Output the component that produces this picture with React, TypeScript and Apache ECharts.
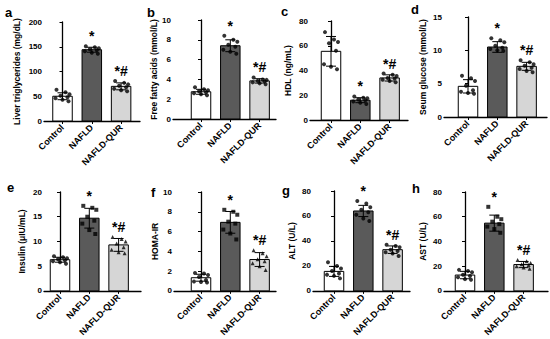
import React, { useEffect, useRef } from 'react';
import * as echarts from 'echarts';

const categories = ['Control', 'NAFLD', 'NAFLD-QUR'];

// a: Liver triglycerides
const tgMeans = [50, 144, 70];
const tgSD = [7, 5, 7];
const tgControl = [63, 58, 54, 51, 48, 46, 43, 40];
const tgNafld = [151, 149, 147, 145, 143, 141, 138, 136];
const tgQur = [81, 77, 74, 71, 68, 65, 62, 60];
const tgTicks = [0, 50, 100, 150, 200];

// b: Free fatty acids
const ffaMeans = [2.75, 7.4, 3.85];
const ffaSD = [0.25, 0.6, 0.22];
const ffaControl = [3.2, 3.0, 2.9, 2.8, 2.7, 2.6, 2.5, 2.4];
const ffaNafld = [8.4, 8.0, 7.8, 7.5, 7.3, 7.0, 6.8, 6.6];
const ffaQur = [4.2, 4.0, 3.95, 3.85, 3.8, 3.7, 3.6, 3.5];
const ffaTicks = [0, 2, 4, 6, 8, 10];

// c: HDL
const hdlMeans = [55.5, 16, 34];
const hdlSD = [12, 2, 2.5];
const hdlControl = [71, 65, 63, 62, 56, 45, 43, 41];
const hdlNafld = [19, 18, 17.5, 16.5, 16, 15, 14, 13];
const hdlQur = [37.5, 36.5, 35.5, 34, 33.5, 32.5, 31.5, 30.5];
const hdlTicks = [0, 20, 40, 60, 80];

// d: Serum glucose
const gluMeans = [4.6, 10.5, 7.6];
const gluSD = [1.0, 0.8, 0.6];
const gluControl = [6.2, 5.8, 5.4, 4.7, 4.0, 3.8, 3.6, 3.5];
const gluNafld = [11.8, 11.5, 11.2, 10.7, 10.4, 10.2, 10.0, 9.9];
const gluQur = [8.5, 8.2, 7.9, 7.7, 7.4, 7.2, 6.9, 6.7];
const gluTicks = [0, 5, 10, 15];

// e: Insulin
const insMeans = [6.3, 14.7, 9.3];
const insSD = [0.5, 2.0, 1.3];
const insControl = [7.0, 6.8, 6.6, 6.4, 6.2, 6.0, 5.8, 5.5];
const insNafld = [17.2, 16.8, 16.4, 15.0, 14.2, 13.6, 12.3, 11.5];
const insQur = [10.9, 10.5, 10.0, 9.6, 8.8, 8.3, 7.8, 7.6];
const insTicks = [0, 5, 10, 15, 20];

// f: HOMA-IR
const homaMeans = [1.33, 6.93, 3.17];
const homaSD = [0.35, 1.1, 0.7];
const homaControl = [1.8, 1.75, 1.6, 1.4, 1.1, 0.95, 0.9, 0.85];
const homaNafld = [8.2, 8.0, 7.7, 7.0, 6.8, 6.2, 5.8, 5.2];
const homaQur = [4.1, 3.8, 3.5, 3.2, 3.0, 2.8, 2.5, 2.1];
const homaTicks = [0, 2, 4, 6, 8, 10];

// g: ALT
const altMeans = [15.6, 64, 33];
const altSD = [4, 4.5, 3];
const altControl = [23, 20, 18, 16, 14, 13, 12, 10];
const altNafld = [72, 70, 67, 65, 63, 61, 58, 56];
const altQur = [37, 36, 35, 33, 32, 31, 30, 28];
const altTicks = [0, 20, 40, 60, 80];

// h: AST
const astMeans = [12.8, 54.8, 21.3];
const astSD = [3, 6.5, 2.5];
const astControl = [17, 16, 15, 13, 12, 11, 9.5, 9];
const astNafld = [68, 60, 58, 56, 54, 52, 50, 47];
const astQur = [25, 24, 22.5, 21.5, 21, 20, 19, 18];
const astTicks = [0, 20, 40, 60, 80];

const sigLabels = ['', '*', '*#'];

const FONT = '"Liberation Sans", Arial, sans-serif';
const barColors = ['#ffffff', '#5a5a5a', '#d6d6d6'];
const jitter = [-6, 3, 7, -2, 5, -7, 0, 6];

type Panel = {
  letter: string;
  name: string;
  means: number[];
  sd: number[];
  points: number[][];
  ticks: number[];
  symbols: string[];
  axisX: number;
  top: number;
  bottom: number;
  c1: number;
  end: number;
  nameGap: number;
  lx: number;
  ly: number;
};

const circ = ['circle', 'circle', 'circle'];
const mixed = ['circle', 'rect', 'triangle'];

const panels: Panel[] = [
  { letter: 'a', name: 'Liver triglycerides (mg/dL)', means: tgMeans, sd: tgSD, points: [tgControl, tgNafld, tgQur], ticks: tgTicks, symbols: circ, axisX: 44, top: 22, bottom: 121, c1: 62.5, end: 140, nameGap: 23, lx: 5, ly: 6 },
  { letter: 'b', name: 'Free fatty acids (mmol/L)', means: ffaMeans, sd: ffaSD, points: [ffaControl, ffaNafld, ffaQur], ticks: ffaTicks, symbols: circ, axisX: 173, top: 20, bottom: 119, c1: 201, end: 276, nameGap: 15, lx: 147, ly: 6 },
  { letter: 'c', name: 'HDL (ng/mL)', means: hdlMeans, sd: hdlSD, points: [hdlControl, hdlNafld, hdlQur], ticks: hdlTicks, symbols: circ, axisX: 310, top: 21, bottom: 120, c1: 331, end: 408, nameGap: 18, lx: 281, ly: 5 },
  { letter: 'd', name: 'Seum glucose (mmol/L)', means: gluMeans, sd: gluSD, points: [gluControl, gluNafld, gluQur], ticks: gluTicks, symbols: circ, axisX: 444, top: 17, bottom: 117, c1: 468, end: 547, nameGap: 17, lx: 411, ly: 3 },
  { letter: 'e', name: 'Insulin (μIU/mL)', means: insMeans, sd: insSD, points: [insControl, insNafld, insQur], ticks: insTicks, symbols: mixed, axisX: 44, top: 192, bottom: 292, c1: 60, end: 141, nameGap: 18, lx: 7, ly: 181 },
  { letter: 'f', name: 'HOMA-IR', means: homaMeans, sd: homaSD, points: [homaControl, homaNafld, homaQur], ticks: homaTicks, symbols: mixed, axisX: 174, top: 192, bottom: 292, c1: 201, end: 276, nameGap: 14, lx: 151, ly: 186 },
  { letter: 'g', name: 'ALT (U/L)', means: altMeans, sd: altSD, points: [altControl, altNafld, altQur], ticks: altTicks, symbols: circ, axisX: 313, top: 191, bottom: 291, c1: 334, end: 410, nameGap: 17, lx: 282, ly: 184 },
  { letter: 'h', name: 'AST (U/L)', means: astMeans, sd: astSD, points: [astControl, astNafld, astQur], ticks: astTicks, symbols: mixed, axisX: 444, top: 192, bottom: 293, c1: 465, end: 548, nameGap: 17, lx: 412, ly: 182 },
];

const SP = 29.3;

function buildOption() {
  const grid: any[] = [];
  const xAxis: any[] = [];
  const yAxis: any[] = [];
  const series: any[] = [];
  const graphic: any[] = [];

  panels.forEach((p, i) => {
    const width = p.end - p.axisX;
    const xMin = -(p.c1 - p.axisX) / SP;
    const xMax = xMin + width / SP;
    const ticks = p.ticks;
    const interval = ticks[1] - ticks[0];
    grid.push({ left: p.axisX, top: p.top, width, height: p.bottom - p.top });
    xAxis.push({
      gridIndex: i,
      type: 'value',
      min: xMin,
      max: xMax,
      axisLine: { show: true, onZero: false, lineStyle: { color: '#000', width: 1.3 } },
      axisTick: { show: true, customValues: [0, 1, 2], length: 3, lineStyle: { color: '#000', width: 1 } },
      axisLabel: {
        customValues: [0, 1, 2],
        formatter: (v: number) => categories[Math.round(v)] ?? '',
        rotate: 45,
        fontSize: 9,
        fontWeight: 'bold',
        color: '#000',
        fontFamily: FONT,
        margin: 5,
      },
      splitLine: { show: false },
    });
    yAxis.push({
      gridIndex: i,
      type: 'value',
      min: ticks[0],
      max: ticks[ticks.length - 1],
      interval,
      name: p.name,
      nameLocation: 'middle',
      nameGap: p.nameGap,
      nameTextStyle: { fontSize: 8.5, fontWeight: 'bold', color: '#000', fontFamily: FONT },
      axisLine: { show: true, lineStyle: { color: '#000', width: 1.3 } },
      axisTick: { show: true, length: 3, lineStyle: { color: '#000', width: 1 } },
      axisLabel: { fontSize: 8, fontWeight: 'bold', color: '#000', fontFamily: FONT, margin: 2 },
      splitLine: { show: false },
    });

    const barData = p.means.map((m, g) => [g, m, p.sd[g], Math.max(m + p.sd[g], ...p.points[g])]);
    series.push({
      type: 'custom',
      xAxisIndex: i,
      yAxisIndex: i,
      z: 2,
      data: barData,
      renderItem: (params: any, api: any) => {
        const g = api.value(0);
        const m = api.value(1);
        const sd = api.value(2);
        const top = api.value(3);
        const [cx, cy] = api.coord([g, m]);
        const y0 = api.coord([g, 0])[1];
        const yHi = api.coord([g, m + sd])[1];
        const yLo = api.coord([g, Math.max(m - sd, 0)])[1];
        const yTop = api.coord([g, top])[1];
        const bw = 19.5;
        const cap = 5;
        const ls = { stroke: '#000', lineWidth: 1 };
        const children: any[] = [
          { type: 'rect', shape: { x: cx - bw / 2, y: cy, width: bw, height: y0 - cy }, style: { fill: barColors[g], stroke: '#000', lineWidth: 1 } },
          { type: 'line', shape: { x1: cx, y1: yLo, x2: cx, y2: yHi }, style: ls, z2: 10 },
          { type: 'line', shape: { x1: cx - cap, y1: yHi, x2: cx + cap, y2: yHi }, style: ls, z2: 10 },
          { type: 'line', shape: { x1: cx - cap, y1: yLo, x2: cx + cap, y2: yLo }, style: ls, z2: 10 },
        ];
        const sig = sigLabels[g];
        if (sig) {
          children.push({
            type: 'text',
            x: cx,
            y: yTop - 3,
            style: { text: sig, fill: '#000', font: `bold 14px ${FONT}`, textAlign: 'center', textVerticalAlign: 'bottom' },
          });
        }
        return { type: 'group', children };
      },
    });

    p.points.forEach((pts, g) => {
      series.push({
        type: 'scatter',
        xAxisIndex: i,
        yAxisIndex: i,
        z: 5,
        symbol: p.symbols[g],
        symbolSize: 4,
        itemStyle: { color: '#000' },
        data: pts.map((v, k) => ({ value: [g, v], symbolOffset: [jitter[k], 0] })),
      });
    });

    graphic.push({
      type: 'text',
      left: p.lx,
      top: p.ly,
      style: { text: p.letter, fill: '#000', font: `bold 13px ${FONT}` },
    });
  });

  return { animation: false, backgroundColor: '#fff', textStyle: { fontFamily: FONT }, grid, xAxis, yAxis, series, graphic };
}

export default function App() {
  const ref = useRef<HTMLDivElement>(null);
  useEffect(() => {
    if (!ref.current) return;
    const chart = echarts.init(ref.current, undefined, { renderer: 'svg' });
    chart.setOption(buildOption() as any);
    return () => chart.dispose();
  }, []);
  return <div ref={ref} style={{ position: 'fixed', left: 0, top: 0, width: 550, height: 339, background: '#fff' }} />;
}
